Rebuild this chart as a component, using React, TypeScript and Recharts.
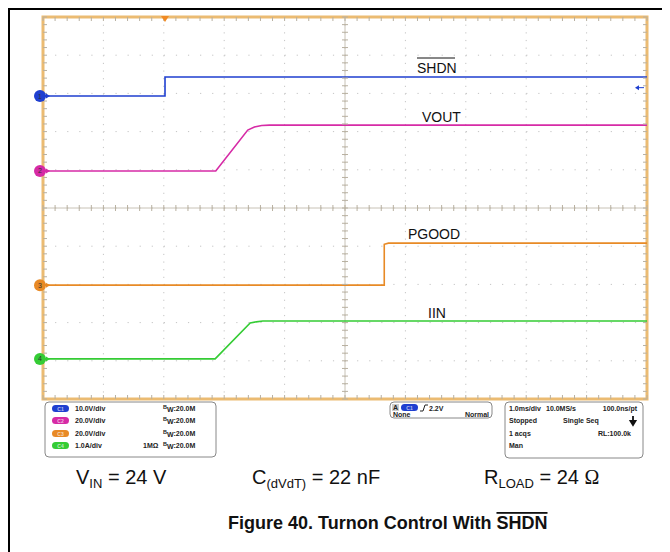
import React from 'react'
import { ComposedChart, Line, Scatter, XAxis, YAxis, CartesianGrid, ReferenceLine, ReferenceArea, ReferenceDot } from 'recharts'

// scope screen: 10 divisions across (1.0 ms/div), 10 divisions up; values in divisions
const divTicks = [0, 1, 2, 3, 4, 5, 6, 7, 8, 9, 10]

// CH1 SHDN (10 V/div)
const shdnX = [0, 2.02, 2.02, 10]
const shdnY = [7.93, 7.93, 8.43, 8.43]
// CH2 VOUT (20 V/div)
const voutX = [0, 2.86, 3.39, 3.5, 3.62, 3.75, 10]
const voutY = [5.97, 5.97, 7.04, 7.12, 7.16, 7.17, 7.17]
// CH3 PGOOD (20 V/div)
const pgoodX = [0, 5.65, 5.65, 5.72, 10]
const pgoodY = [2.98, 2.98, 4.05, 4.08, 4.08]
// CH4 IIN (1 A/div)
const iinX = [0, 2.85, 3.43, 3.53, 3.64, 3.75, 10]
const iinY = [1.05, 1.05, 1.99, 2.02, 2.04, 2.04, 2.04]

const channels = [
  { id: '1', name: 'C1', color: '#1f3fd0', ground: 7.93, scale: '10.0V/div', imp: '' },
  { id: '2', name: 'C2', color: '#d62ba6', ground: 5.97, scale: '20.0V/div', imp: '' },
  { id: '3', name: 'C3', color: '#e88a26', ground: 2.98, scale: '20.0V/div', imp: '' },
  { id: '4', name: 'C4', color: '#35cc35', ground: 1.05, scale: '1.0A/div', imp: '1MΩ' },
]
const triggerTime = 2.02
const triggerLevel = 8.15

const zip = (xs: number[], ys: number[]) => xs.map((x, i) => ({ t: x, v: ys[i] }))

// graticule minor ticks (5 per division)
const minor: number[] = []
for (let i = 0; i <= 50; i++) minor.push(i / 5)
const hTicks = minor.flatMap(t => [{ t, v: 0, k: 'b' }, { t, v: 10, k: 't' }, { t, v: 5, k: 'c' }])
const vTicks = minor.flatMap(v => [{ t: 0, v, k: 'l' }, { t: 10, v, k: 'r' }, { t: 5, v, k: 'c' }])

const TickH = (p: any) => {
  const { cx, cy, payload } = p
  const y1 = payload.k === 't' ? cy : payload.k === 'b' ? cy - 4 : cy - 3
  const y2 = payload.k === 't' ? cy + 4 : payload.k === 'b' ? cy : cy + 3
  return <line x1={cx} x2={cx} y1={y1} y2={y2} stroke="#b8b0a0" strokeWidth={1} />
}
const TickV = (p: any) => {
  const { cx, cy, payload } = p
  const x1 = payload.k === 'l' ? cx : payload.k === 'r' ? cx - 4 : cx - 3
  const x2 = payload.k === 'l' ? cx + 4 : payload.k === 'r' ? cx : cx + 3
  return <line x1={x1} x2={x2} y1={cy} y2={cy} stroke="#b8b0a0" strokeWidth={1} />
}

const GroundMarker = (color: string, id: string) => (p: any) => {
  const { cx, cy } = p
  return (
    <g>
      <circle cx={cx - 3} cy={cy} r={6} fill={color} />
      <text x={cx - 3} y={cy + 2.5} fontSize={7} textAnchor="middle" fill="#333" fontFamily="Arial">{id}</text>
      <path d={`M${cx + 3} ${cy - 2.5} L${cx + 7} ${cy} L${cx + 3} ${cy + 2.5} Z`} fill={color} />
      <line x1={cx} x2={cx + 4} y1={cy} y2={cy} stroke={color} strokeWidth={1.5} />
    </g>
  )
}

const TriggerMark = (p: any) => {
  const { cx, cy } = p
  return <path d={`M${cx - 4} ${cy - 1} L${cx + 4} ${cy - 1} L${cx} ${cy + 5} Z`} fill="#f08a24" />
}
const LevelMark = (p: any) => {
  const { cx, cy } = p
  return (
    <g>
      <path d={`M${cx - 12} ${cy} L${cx - 8} ${cy - 2.5} L${cx - 8} ${cy + 2.5} Z`} fill="#1f3fd0" />
      <line x1={cx - 8} x2={cx - 3} y1={cy} y2={cy} stroke="#1f3fd0" strokeWidth={1} />
    </g>
  )
}

const Pill = ({ x, y, color, label }: any) => (
  <g>
    <rect x={x} y={y} width={17} height={7} rx={3.5} fill={color} />
    <text x={x + 8.5} y={y + 5.5} fontSize={5} textAnchor="middle" fill="#ffffffaa" fontWeight="bold">{label}</text>
  </g>
)

const font = 'Arial, "Liberation Sans", sans-serif'

const App = () => {
  const rowY = [411, 423, 436, 448]
  return (
    <div style={{ position: 'relative', width: 662, height: 544, background: '#fff', fontFamily: font }}>
      <ComposedChart
        width={662}
        height={400}
        margin={{ top: 9, right: 23, bottom: 9, left: 35 }}
        style={{ position: 'absolute', left: 0, top: 0 }}
      >
        <XAxis dataKey="t" type="number" domain={[0, 10]} ticks={divTicks} hide allowDuplicatedCategory={false} />
        <YAxis dataKey="v" type="number" domain={[0, 10]} ticks={divTicks} hide />
        <CartesianGrid vertical={false} stroke="#c4c4c4" strokeDasharray="1.2 10.88" />
        <CartesianGrid horizontal={false} stroke="#c4c4c4" strokeDasharray="1.2 6.44" />
        <ReferenceLine x={5} stroke="#c8c2b6" strokeWidth={1} />
        <ReferenceLine y={5} stroke="#c8c2b6" strokeWidth={1} />
        <Scatter data={hTicks} dataKey="v" shape={TickH} isAnimationActive={false} />
        <Scatter data={vTicks} dataKey="v" shape={TickV} isAnimationActive={false} />
        <ReferenceArea x1={0} x2={10} y1={0} y2={10} fill="none" stroke="#ebbb72" strokeWidth={3} />
        <Line data={zip(shdnX, shdnY)} dataKey="v" stroke={channels[0].color} strokeWidth={1.6} dot={false} isAnimationActive={false} type="linear" />
        <Line data={zip(voutX, voutY)} dataKey="v" stroke={channels[1].color} strokeWidth={1.6} dot={false} isAnimationActive={false} type="linear" />
        <Line data={zip(pgoodX, pgoodY)} dataKey="v" stroke={channels[2].color} strokeWidth={1.6} dot={false} isAnimationActive={false} type="linear" />
        <Line data={zip(iinX, iinY)} dataKey="v" stroke={channels[3].color} strokeWidth={1.6} dot={false} isAnimationActive={false} type="linear" />
        {channels.map(c => (
          <ReferenceDot key={c.id} x={0} y={c.ground} ifOverflow="visible" shape={GroundMarker(c.color, c.id)} />
        ))}
        <ReferenceDot x={triggerTime} y={10} ifOverflow="visible" shape={TriggerMark} />
        <ReferenceDot x={10} y={triggerLevel} ifOverflow="visible" shape={LevelMark} />
      </ComposedChart>

      <svg width={662} height={544} style={{ position: 'absolute', left: 0, top: 0, pointerEvents: 'none' }} fontFamily={font}>
        <g transform="translate(-8,-8)">
          <line x1={8} x2={670} y1={9} y2={9} stroke="#000" strokeWidth={2} />
          <line x1={9} x2={9} y1={8} y2={552} stroke="#000" strokeWidth={2} />

          <text x={417} y={73} fontSize={14} fill="#111">SHDN</text>
          <line x1={417} x2={455} y1={58} y2={58} stroke="#111" strokeWidth={1} />
          <text x={422} y={122} fontSize={14} fill="#111">VOUT</text>
          <text x={408} y={239} fontSize={14} fill="#111">PGOOD</text>
          <text x={428} y={318} fontSize={14} fill="#111">IIN</text>

          {/* channel settings box */}
          <rect x={45} y={402} width={171} height={55} rx={4} fill="#fff" stroke="#888" strokeWidth={1} />
          {channels.map((c, i) => (
            <g key={c.id} fontSize={7} fontWeight="bold" fill="#222">
              <Pill x={52} y={rowY[i] - 6} color={c.color} label={c.name} />
              <text x={75} y={rowY[i]}>{c.scale}</text>
              {c.imp && <text x={143} y={rowY[i]}>{c.imp}</text>}
              <text x={163} y={rowY[i]}>
                <tspan fontSize={5.5} dy={-2}>B</tspan>
                <tspan dy={3}>W</tspan>
                <tspan dy={-1}>:20.0M</tspan>
              </text>
            </g>
          ))}

          {/* trigger box */}
          <rect x={390} y={402} width={102} height={16} rx={4} fill="#fff" stroke="#888" strokeWidth={1} />
          <g fontSize={7} fontWeight="bold" fill="#222">
            <rect x={392} y={404} width={7} height={7} fill="#ccc" />
            <text x={393} y={410}>A</text>
            <Pill x={401} y={404} color={channels[0].color} label="C1" />
            <path d="M420 411 L423 411 L425 405 L428 405" stroke="#222" strokeWidth={1} fill="none" />
            <text x={429} y={410.5}>2.2V</text>
            <text x={393} y={417}>None</text>
            <text x={489} y={417} textAnchor="end">Normal</text>
          </g>

          {/* timebase box */}
          <rect x={505} y={402} width={138} height={56} rx={4} fill="#fff" stroke="#888" strokeWidth={1} />
          <g fontSize={7} fontWeight="bold" fill="#222">
            <text x={509} y={rowY[0]}>1.0ms/div</text>
            <text x={546} y={rowY[0]}>10.0MS/s</text>
            <text x={637} y={rowY[0]} textAnchor="end">100.0ns/pt</text>
            <text x={509} y={rowY[1]}>Stopped</text>
            <text x={563} y={rowY[1]}>Single Seq</text>
            <path d="M633 416 L633 423 M630.5 421 L633 425 L635.5 421 Z" stroke="#111" strokeWidth={1.8} fill="#111" />
            <text x={509} y={rowY[2]}>1 acqs</text>
            <text x={631} y={rowY[2]} textAnchor="end">RL:100.0k</text>
            <text x={509} y={rowY[3]}>Man</text>
          </g>

          <g fontSize={20} fill="#111">
            <text x={76} y={484}>V<tspan fontSize={13} dy={4}>IN</tspan><tspan dy={-4}> = 24 V</tspan></text>
            <text x={252} y={484}>C<tspan fontSize={13} dy={4}>(dVdT)</tspan><tspan dy={-4}> = 22 nF</tspan></text>
            <text x={484} y={484}>R<tspan fontSize={13} dy={4}>LOAD</tspan><tspan dy={-4}> = 24 </tspan><tspan fontFamily='"Liberation Serif", serif'>Ω</tspan></text>
          </g>
          <text x={228} y={529} fontSize={18} fontWeight="bold" fill="#111">
            Figure 40. Turnon Control With <tspan style={{ textDecoration: 'overline' }}>SHDN</tspan>
          </text>
        </g>
      </svg>
    </div>
  )
}

export default App
